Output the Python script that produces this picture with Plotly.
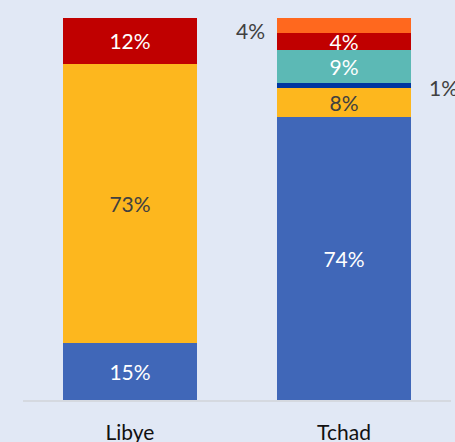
import plotly.graph_objects as go

categories = ["Libye", "Tchad"]
seg_blue = [15, 74]
seg_yellow = [73, 7.7]
seg_navy = [0, 1.3]
seg_teal = [0, 8.6]
seg_red = [12, 4.4]
seg_orange = [0, 4.0]

series = [
    ("Bleu", seg_blue, "#4067B8", "white", True),
    ("Jaune", seg_yellow, "#FDB71E", "#404040", True),
    ("Marine", seg_navy, "#0037A0", "white", False),
    ("Turquoise", seg_teal, "#5CB9B5", "white", True),
    ("Rouge", seg_red, "#C00000", "white", True),
    ("Orange", seg_orange, "#FF681E", "white", False),
]

FONT = "Lato"
FS = 21

fig = go.Figure()
for name, vals, color, tcol, inside in series:
    texts = [f"{v:.0f}%" if (inside and v > 0) else "" for v in vals]
    fig.add_trace(go.Bar(
        x=categories, y=vals, name=name,
        marker=dict(color=color, line=dict(width=0)),
        text=texts, textposition="inside", insidetextanchor="middle",
        textangle=0,
        textfont=dict(family=FONT, size=FS, color=tcol),
        hoverinfo="skip",
    ))

# outside labels for thin Tchad segments
cum = 0
cums = {}
for name, vals, *_ in series:
    cums[name] = (cum, cum + vals[1])
    cum += vals[1]

lo, hi = cums["Orange"]
fig.add_annotation(x="Tchad", y=(lo + hi) / 2, text=f"{seg_orange[1]:.0f}%",
                   showarrow=False, xanchor="right", yanchor="middle",
                   xshift=-77, yshift=-5,
                   font=dict(family=FONT, size=FS, color="#404040"))
lo, hi = cums["Marine"]
fig.add_annotation(x="Tchad", y=(lo + hi) / 2, text=f"{seg_navy[1]:.0f}%",
                   showarrow=False, xanchor="left", yanchor="middle",
                   xshift=83, yshift=-2,
                   font=dict(family=FONT, size=FS, color="#404040"))

fig.update_layout(
    barmode="stack",
    bargap=0.37,
    width=455, height=442,
    margin=dict(l=23, r=4, t=18, b=42, autoexpand=False),
    paper_bgcolor="#E1E8F5",
    plot_bgcolor="#E1E8F5",
    showlegend=False,
    uniformtext=dict(minsize=FS, mode="show"),
    font=dict(family=FONT),
)
fig.update_xaxes(range=[-0.5, len(categories) - 0.5],
                 showline=True, linecolor="#D5D9E0", linewidth=1.5,
                 showgrid=False, ticks="", ticklabelstandoff=13,
                 automargin=False,
                 tickfont=dict(family=FONT, size=FS, color="#111111"))
fig.update_yaxes(range=[0, 100], visible=False, showgrid=False,
                 automargin=False)

post = (
    "document.body.style.margin='0';"
    "document.body.style.overflow='hidden';"
    "document.body.style.background='#E1E8F5';"
)
fig.write_html("out.html", config={"displayModeBar": False}, post_script=post)
